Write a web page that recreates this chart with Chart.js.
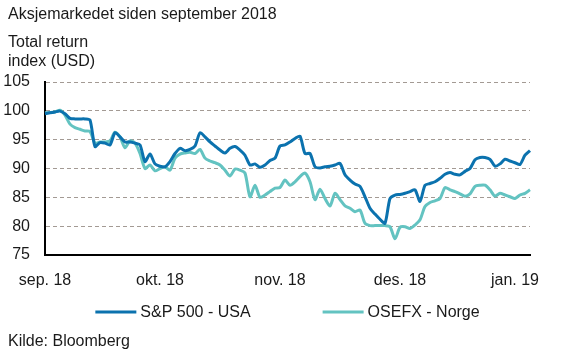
<!DOCTYPE html>
<html>
<head>
<meta charset="utf-8">
<script src="https://cdn.jsdelivr.net/npm/chart.js@4.4.1/dist/chart.umd.min.js"></script>
<style>
  html, body { margin: 0; padding: 0; background: #ffffff; }
  #wrap { width: 561px; height: 355px; position: relative; }
</style>
</head>
<body>
<div id="wrap"><canvas id="c" width="561" height="355"></canvas></div>
<script>
// ---- data (one value every ~5 px of the time axis) ----
const titleText = 'Aksjemarkedet siden september 2018';
const yAxisTitle = ['Total return', 'index (USD)'];
const sourceText = 'Kilde: Bloomberg';

const monthLabels = ['sep. 18', 'okt. 18', 'nov. 18', 'des. 18', 'jan. 19'];
const monthIndex = [0, 23, 47, 71, 94];

const seriesNames = ['S&P 500 - USA', 'OSEFX - Norge'];

const sp500 = [
  99.5, 99.65, 99.8, 99.95, 99.5, 98.7, 98.6, 98.6, 98.6, 98.4,
  93.8, 94.5, 94.4, 94.1, 96.2, 95.5, 94.6, 94.6, 94.4, 94.1,
  91.2, 92.5, 90.8, 90.4, 90.3, 91.2, 92.6, 93.5, 93.1, 93.3,
  93.9, 96.2, 95.5, 94.6, 93.9, 93.2, 92.7, 93.5, 93.8, 93.2,
  92.3, 90.6, 90.8, 90.2, 90.6, 91.4, 91.8, 93.9, 94.1, 94.6,
  95.2, 95.6, 92.6, 92.6, 90.3, 90.1, 90.3, 90.4, 90.6, 90.9,
  88.9, 88.0, 87.3, 86.9, 85.1, 83.1, 82.1, 81.2, 80.5, 84.8,
  85.4, 85.5, 85.7, 86.0, 86.3, 84.3, 87.1, 87.4, 87.7, 88.3,
  89.0, 89.3, 89.0, 88.9, 89.5, 90.0, 91.5, 91.9, 91.9, 91.6,
  90.4, 90.8, 91.6, 91.3, 91.0, 90.7, 92.3, 93.1
];

const osefx = [
  99.65, 99.7, 99.8, 100.1, 99.25, 97.7, 97.1, 96.8, 96.5, 96.4,
  94.4, 94.6, 94.6, 94.8, 96.3, 95.5, 93.6, 94.8, 94.4, 92.6,
  90.0, 90.6, 89.6, 90.0, 90.3, 89.7, 91.8, 92.5, 92.7, 92.8,
  92.6, 93.3, 91.8, 91.3, 91.0, 90.6, 89.7, 88.7, 89.9, 89.7,
  89.2, 85.1, 87.1, 85.0, 85.4, 86.0, 86.6, 86.7, 88.0, 87.1,
  87.7, 88.6, 89.2, 87.7, 84.6, 86.4, 84.8, 83.5, 85.7, 84.6,
  83.5, 83.1, 82.5, 82.8, 80.5, 80.1, 80.1, 80.1, 80.1, 79.9,
  77.8, 79.8, 79.9, 79.6, 80.2, 81.1, 83.4, 84.1, 84.4, 84.8,
  86.7, 86.3, 86.0, 85.6, 85.2, 85.6, 86.9, 87.1, 87.1, 86.3,
  85.2, 85.7, 85.4, 85.1, 84.8, 85.4, 85.7, 86.3
];

const yMin = 75, yMax = 105, yStep = 5;

// ---- build labels for the category axis ----
const labels = sp500.map(() => '');
monthIndex.forEach((idx, k) => { labels[idx] = monthLabels[k]; });

const FONT = '"Liberation Sans", Arial, sans-serif';
const colors = ['#0b72ae', '#63c3c1'];

const textPlugin = {
  id: 'texts',
  afterDraw(chart) {
    const ctx = chart.ctx;
    const area = chart.chartArea;
    ctx.save();
    ctx.fillStyle = '#1a1a1a';
    ctx.textBaseline = 'middle';
    ctx.textAlign = 'left';
    ctx.font = '16px ' + FONT;
    ctx.fillText(titleText, 8, 15);
    ctx.font = '16px ' + FONT;
    ctx.fillText(yAxisTitle[0], 8, 43);
    ctx.fillText(yAxisTitle[1], 8, 62);
    ctx.fillText(sourceText, 8, 342);

    // legend
    ctx.font = '16px ' + FONT;
    const lineLen = 41, gapLT = 4, gapItems = 72;
    const widths = chart.data.datasets.map(d => ctx.measureText(d.label).width);
    const total = widths.reduce((a, w) => a + lineLen + gapLT + w, 0) + gapItems * (widths.length - 1);
    let x = (area.left + area.right) / 2 - total / 2;
    const ly = 312;
    chart.data.datasets.forEach((d, i) => {
      ctx.strokeStyle = d.borderColor;
      ctx.lineWidth = 3;
      ctx.beginPath();
      ctx.moveTo(x, ly);
      ctx.lineTo(x + lineLen, ly);
      ctx.stroke();
      x += lineLen + gapLT;
      ctx.fillStyle = '#1a1a1a';
      ctx.fillText(d.label, x, ly + 1);
      x += widths[i] + gapItems;
    });
    ctx.restore();
  }
};

new Chart(document.getElementById('c'), {
  type: 'line',
  data: {
    labels: labels,
    datasets: [
      { label: seriesNames[0], data: sp500, borderColor: colors[0], backgroundColor: colors[0],
        borderWidth: 3, pointRadius: 0, tension: 0.25, order: 1 },
      { label: seriesNames[1], data: osefx, borderColor: colors[1], backgroundColor: colors[1],
        borderWidth: 3, pointRadius: 0, tension: 0.25, order: 2 }
    ]
  },
  options: {
    responsive: false,
    animation: false,
    events: [],
    layout: { padding: { top: 82, right: 31, bottom: 0, left: 0 } },
    plugins: {
      legend: { display: false },
      title: { display: false },
      tooltip: { enabled: false }
    },
    scales: {
      x: {
        type: 'category',
        offset: false,
        afterFit(scale) { scale.height = 100; },
        grid: { display: false, drawTicks: false },
        border: { display: true, color: '#000000', width: 2 },
        ticks: {
          autoSkip: false, maxRotation: 0, minRotation: 0, padding: 16,
          color: '#1a1a1a', font: { family: FONT, size: 16 },
          callback: (v, i) => labels[i]
        }
      },
      y: {
        min: yMin, max: yMax,
        afterFit(scale) { scale.width = 45; },
        grid: {
          drawTicks: false, lineWidth: 1,
          color: (c) => (c.tick && c.tick.value === yMin) ? 'rgba(0,0,0,0)' : '#a39a94'
        },
        border: { display: true, color: '#000000', width: 2, dash: [4, 3] },
        ticks: {
          stepSize: yStep, padding: 15,
          color: '#1a1a1a', font: { family: FONT, size: 16 }
        }
      }
    }
  },
  plugins: [textPlugin]
});
</script>
</body>
</html>
